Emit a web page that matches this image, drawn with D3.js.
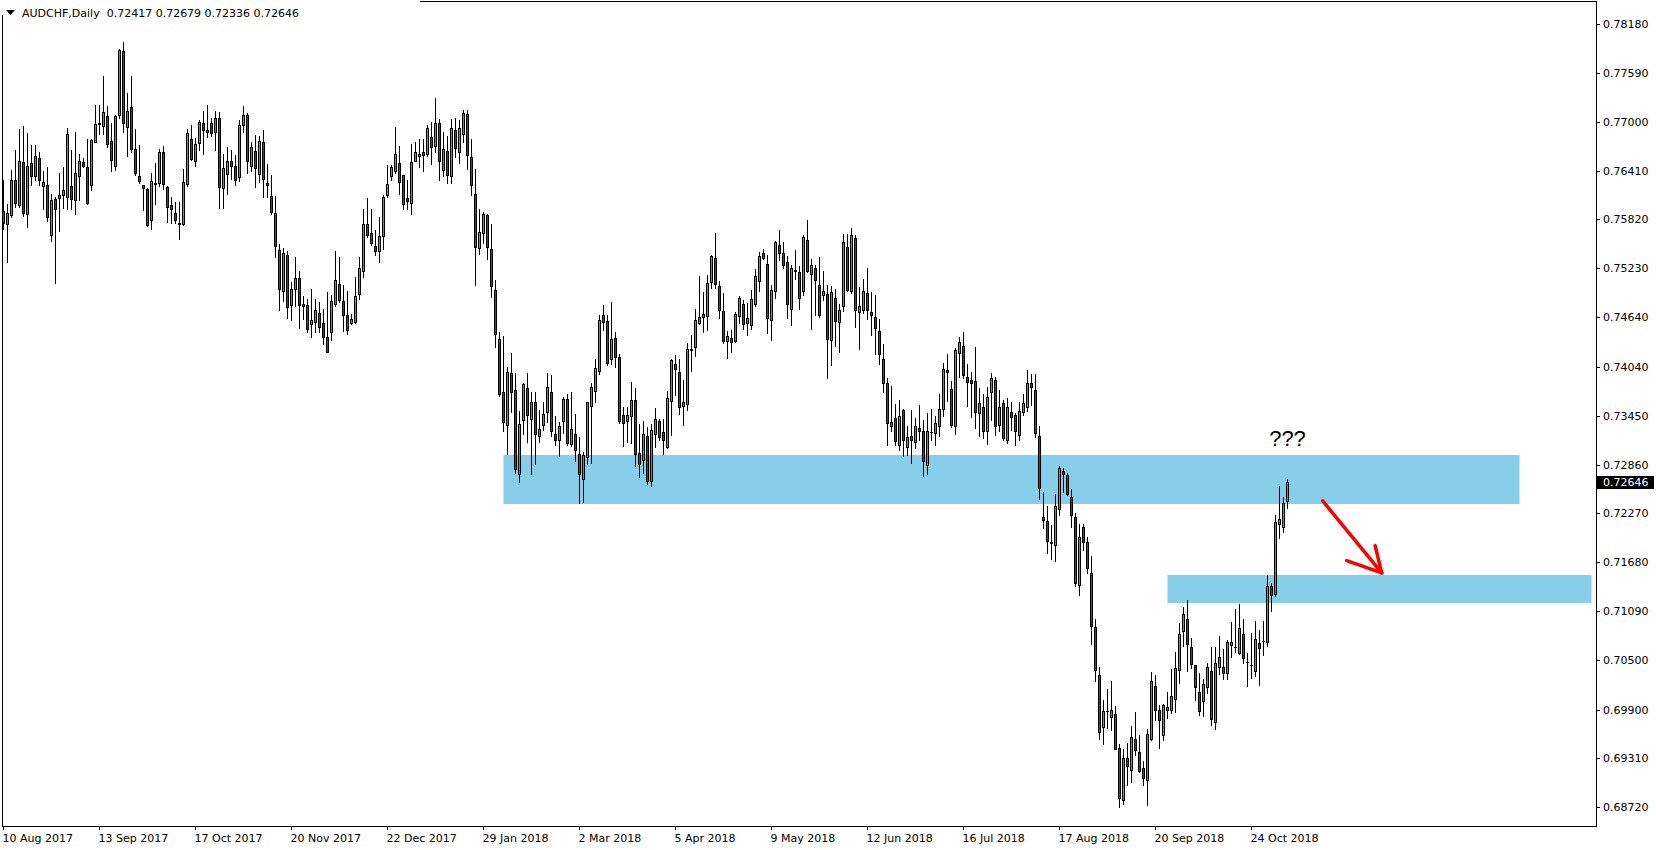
<!DOCTYPE html>
<html><head><meta charset="utf-8">
<script src="https://cdn.jsdelivr.net/npm/d3@7"></script>
<style>
html,body{margin:0;padding:0;background:#fff;}
svg{display:block;}
</style></head><body>
<svg id="c" width="1656" height="850"></svg>
<script>
const symbol = "AUDCHF,Daily";
const lastQuote = [0.72417, 0.72679, 0.72336, 0.72646];

const open = [
.7592,.7576,.7587,.7629,.7599,.7651,.7589,.7650,.7634,.7656,.7622,.7624,.7563,.7607,.7608,.7611,.7609,.7622,.7605,.7635,
.7651,.7645,.7623,.7676,.7697,.7695,.7707,.7677,.7646,.7708,.7785,.7694,.7718,.7667,.7634,.7623,.7619,.7581,.7625,.7626,
.7664,.7621,.7599,.7590,.7578,.7577,.7625,.7679,.7653,.7674,.7699,.7687,.7699,.7688,.7704,
.7620,.7637,.7653,.7646,.7633,.7696,.7708,.7646,.7665,.7637,.7676,.7626,.7610,.7590,.7545,.7496,.7539,.7479,.7498,.7511,
.7480,.7479,.7456,.7458,.7469,.7457,.7440,.7446,.7480,.7504,.7483,.7466,.7457,.7458,.7492,.7520,.7577,.7566,.7550,.7544,
.7562,.7611,.7634,.7640,.7650,.7636,.7608,.7602,.7653,.7658,.7663,.7661,.7682,.7671,.7698,
.7642,.7665,.7635,.7690,.7664,.7685,.7709,.7657,.7613,.7548,.7565,.7587,.7546,.7497,.7438,.7374,.7334,.7397,.7376,.7275,
.7340,.7378,.7341,.7362,.7321,.7334,.7349,.7374,.7323,.7316,.7338,.7365,.7311,.7323,.7299,.7268,.7295,.7357,.7375,.7399,
.7467,.7459,.7413,.7439,.7416,.7346,.7338,.7345,.7364,.7300,.7291,.7320,.7266,.7323,.7338,
.7325,.7307,.7363,.7407,.7398,.7357,.7359,.7424,.7428,.7457,.7464,.7465,.7506,.7535,.7501,.7471,.7435,.7439,.7435,.7465,
.7480,.7457,.7455,.7480,.7508,.7542,.7528,.7461,.7495,.7551,.7541,.7530,.7474,.7520,.7519,.7495,.7557,.7516,.7523,.7503,
.7491,.7492,.7436,.7487,.7458,.7478,.7549,.7496,.7559,.7470,.7472,.7493,.7470,.7464,.7447,
.7413,.7384,.7332,.7342,.7310,.7352,.7307,.7321,.7313,.7330,.7326,.7286,.7325,.7324,.7332,.7353,.7400,.7377,.7332,.7421,
.7429,.7392,.7388,.7387,.7348,.7355,.7326,.7374,.7388,.7334,.7360,.7316,.7349,.7346,.7322,.7349,.7355,.7384,.7376,.7320,
.7223,.7218,.7193,.7189,.7232,.7278,.7273,.7247,.7222,.7140,.7211,.7193,.7155,.7090,.7032,
.6969,.6988,.6981,.6985,.6944,.6881,.6932,.6917,.6954,.6939,.6919,.6905,.6954,.7019,.6989,.6959,.6989,.6990,.7003,.7038,
.7085,.7100,.7065,.7044,.7011,.7000,.7017,.7037,.6975,.7042,.7041,.7034,.7068,.7066,.7058,.7081,.7048,.7044,.7037,.7070,
.7073,.7072,.7139,.7130,.7214,.7211,.72417];

const high = [
.7629,.7601,.7642,.7666,.7691,.7695,.7686,.7672,.7672,.7664,.7640,.7645,.7613,.7609,.7638,.7645,.7693,.7666,.7688,.7661,
.7656,.7679,.7679,.7720,.7720,.7755,.7719,.7698,.7708,.7788,.7796,.7735,.7755,.7691,.7672,.7624,.7620,.7638,.7650,.7667,
.7671,.7622,.7609,.7603,.7603,.7643,.7691,.7696,.7680,.7702,.7713,.7720,.7704,.7713,.7712,
.7661,.7669,.7666,.7660,.7702,.7719,.7710,.7675,.7684,.7683,.7690,.7649,.7636,.7610,.7552,.7547,.7544,.7507,.7536,.7520,
.7490,.7486,.7498,.7486,.7482,.7474,.7494,.7491,.7544,.7536,.7503,.7495,.7468,.7512,.7536,.7594,.7608,.7594,.7569,.7585,
.7612,.7648,.7648,.7694,.7671,.7636,.7630,.7673,.7675,.7679,.7679,.7696,.7700,.7729,.7703,
.7688,.7683,.7703,.7705,.7702,.7714,.7714,.7679,.7643,.7594,.7591,.7589,.7576,.7509,.7446,.7441,.7404,.7421,.7397,.7351,
.7384,.7397,.7373,.7374,.7352,.7362,.7396,.7394,.7344,.7337,.7367,.7371,.7373,.7347,.7319,.7301,.7362,.7384,.7414,.7466,
.7479,.7467,.7482,.7446,.7419,.7356,.7356,.7386,.7378,.7335,.7339,.7331,.7335,.7354,.7341,
.7341,.7375,.7414,.7418,.7413,.7388,.7433,.7442,.7474,.7514,.7494,.7515,.7539,.7566,.7508,.7493,.7447,.7448,.7470,.7490,
.7485,.7481,.7497,.7522,.7543,.7546,.7539,.7503,.7556,.7569,.7555,.7538,.7527,.7545,.7526,.7563,.7581,.7534,.7527,.7537,
.7520,.7503,.7502,.7498,.7480,.7564,.7564,.7572,.7563,.7500,.7510,.7523,.7494,.7491,.7462,
.7432,.7390,.7381,.7359,.7364,.7353,.7332,.7352,.7342,.7358,.7340,.7348,.7353,.7344,.7371,.7409,.7420,.7387,.7427,.7440,
.7446,.7407,.7398,.7428,.7378,.7371,.7380,.7397,.7392,.7376,.7364,.7366,.7361,.7348,.7361,.7371,.7400,.7395,.7395,.7332,
.7253,.7236,.7213,.7250,.7284,.7282,.7276,.7256,.7228,.7214,.7214,.7199,.7175,.7099,.7041,
.7002,.7015,.7024,.6994,.6949,.6942,.6950,.6970,.6987,.6959,.6928,.6967,.7036,.7032,.6995,.6997,.7011,.7039,.7059,.7094,
.7114,.7122,.7077,.7044,.7034,.7027,.7046,.7065,.7065,.7079,.7063,.7074,.7096,.7112,.7118,.7099,.7058,.7082,.7097,.7086,
.7097,.7152,.7143,.7225,.7260,.7247,.72679];

const low = [
.7571,.7531,.7585,.7597,.7597,.7586,.7573,.7623,.7630,.7624,.7594,.7580,.7556,.7505,.7568,.7596,.7595,.7594,.7589,.7605,
.7645,.7601,.7618,.7675,.7685,.7685,.7669,.7640,.7642,.7704,.7687,.7659,.7664,.7636,.7626,.7593,.7574,.7570,.7601,.7622,
.7619,.7579,.7578,.7578,.7558,.7575,.7622,.7654,.7647,.7666,.7661,.7682,.7683,.7666,.7596,
.7596,.7613,.7631,.7624,.7628,.7687,.7638,.7640,.7621,.7627,.7609,.7609,.7588,.7537,.7473,.7484,.7463,.7460,.7478,.7451,
.7462,.7446,.7440,.7446,.7446,.7431,.7422,.7436,.7478,.7482,.7447,.7444,.7456,.7457,.7486,.7513,.7561,.7551,.7539,.7531,
.7546,.7609,.7629,.7638,.7613,.7594,.7594,.7588,.7652,.7645,.7641,.7659,.7649,.7664,.7629,
.7635,.7626,.7626,.7657,.7650,.7675,.7643,.7612,.7503,.7540,.7554,.7534,.7488,.7428,.7369,.7327,.7299,.7349,.7276,.7265,
.7323,.7313,.7274,.7287,.7313,.7328,.7337,.7320,.7310,.7296,.7324,.7309,.7308,.7290,.7240,.7241,.7287,.7288,.7361,.7395,
.7448,.7406,.7407,.7404,.7336,.7308,.7313,.7312,.7284,.7271,.7276,.7263,.7260,.7307,.7315,
.7299,.7306,.7322,.7370,.7347,.7334,.7352,.7399,.7417,.7456,.7446,.7448,.7499,.7499,.7463,.7433,.7415,.7422,.7434,.7457,
.7450,.7442,.7450,.7478,.7495,.7534,.7445,.7436,.7487,.7533,.7523,.7463,.7454,.7510,.7474,.7491,.7519,.7450,.7466,.7464,
.7485,.7391,.7406,.7429,.7422,.7471,.7496,.7493,.7452,.7426,.7469,.7462,.7442,.7420,.7407,
.7374,.7310,.7327,.7309,.7303,.7296,.7297,.7288,.7306,.7316,.7272,.7274,.7316,.7309,.7321,.7345,.7363,.7331,.7323,.7392,
.7390,.7357,.7343,.7330,.7320,.7318,.7311,.7340,.7322,.7326,.7315,.7312,.7328,.7309,.7316,.7346,.7351,.7358,.7319,.7244,
.7209,.7179,.7172,.7170,.7225,.7253,.7249,.7211,.7139,.7128,.7183,.7155,.7069,.7025,.6954,
.6949,.6968,.6965,.6942,.6872,.6876,.6899,.6903,.6935,.6915,.6899,.6875,.6953,.6977,.6944,.6953,.6980,.6986,.6987,.7022,
.7067,.7037,.7040,.7002,.6983,.6982,.7010,.6971,.6966,.7033,.7027,.7027,.7054,.7060,.7057,.7046,.7019,.7028,.7030,.7020,
.7056,.7067,.7109,.7127,.7197,.7204,.72336];

const close = [
.7578,.7590,.7630,.7602,.7652,.7590,.7647,.7635,.7658,.7629,.7627,.7585,.7606,.7595,.7612,.7617,.7685,.7607,.7638,.7653,
.7647,.7602,.7678,.7697,.7699,.7712,.7673,.7654,.7707,.7786,.7699,.7713,.7667,.7638,.7628,.7620,.7575,.7628,.7626,.7664,
.7625,.7597,.7594,.7581,.7576,.7627,.7686,.7655,.7673,.7700,.7690,.7690,.7686,.7704,.7621,
.7644,.7653,.7646,.7630,.7696,.7708,.7652,.7670,.7644,.7677,.7631,.7623,.7591,.7550,.7498,.7542,.7476,.7498,.7511,.7479,
.7478,.7450,.7460,.7472,.7452,.7440,.7422,.7483,.7509,.7485,.7467,.7449,.7462,.7490,.7523,.7577,.7563,.7553,.7544,.7562,
.7609,.7625,.7645,.7661,.7627,.7601,.7604,.7651,.7663,.7661,.7660,.7692,.7670,.7699,.7653,
.7667,.7636,.7692,.7668,.7692,.7710,.7660,.7623,.7549,.7567,.7588,.7549,.7501,.7444,.7371,.7337,.7398,.7374,.7281,.7335,
.7383,.7346,.7362,.7323,.7329,.7347,.7379,.7326,.7316,.7333,.7365,.7312,.7329,.7303,.7275,.7297,.7361,.7380,.7403,.7461,
.7458,.7409,.7438,.7416,.7338,.7336,.7346,.7364,.7299,.7287,.7323,.7266,.7328,.7341,.7319,
.7316,.7366,.7412,.7401,.7356,.7361,.7426,.7426,.7461,.7464,.7468,.7505,.7538,.7504,.7473,.7435,.7441,.7434,.7468,.7487,
.7456,.7463,.7486,.7514,.7538,.7535,.7463,.7497,.7555,.7541,.7527,.7480,.7523,.7521,.7487,.7561,.7520,.7527,.7509,.7466,
.7495,.7438,.7494,.7459,.7472,.7555,.7497,.7563,.7472,.7478,.7496,.7472,.7466,.7451,.7420,
.7385,.7336,.7337,.7314,.7344,.7315,.7319,.7316,.7333,.7327,.7290,.7327,.7325,.7336,.7353,.7401,.7398,.7334,.7424,.7434,
.7394,.7386,.7385,.7349,.7360,.7326,.7368,.7391,.7332,.7356,.7318,.7355,.7343,.7327,.7351,.7360,.7384,.7380,.7324,.7258,
.7219,.7194,.7191,.7236,.7282,.7274,.7250,.7225,.7143,.7199,.7192,.7161,.7091,.7038,.6963,
.6988,.6988,.6989,.6942,.6883,.6932,.6922,.6957,.6941,.6916,.6907,.6961,.7025,.6989,.6977,.6995,.6993,.7006,.7040,.7081,
.7105,.7069,.7045,.7017,.6988,.7021,.7042,.6979,.7046,.7053,.7034,.7072,.7072,.7066,.7089,.7052,.7048,.7044,.7075,.7064,
.7073,.7139,.7129,.7216,.7220,.7240,.72646];

const dateTickLabels = ["10 Aug 2017","13 Sep 2017","17 Oct 2017","20 Nov 2017","22 Dec 2017","29 Jan 2018","2 Mar 2018",
  "5 Apr 2018","9 May 2018","12 Jun 2018","16 Jul 2018","17 Aug 2018","20 Sep 2018","24 Oct 2018"];
const barsPerDateTick = 24;
const priceTicks = [0.78180,0.77590,0.77000,0.76410,0.75820,0.75230,0.74640,0.74040,0.73450,
  0.72860,0.72270,0.71680,0.71090,0.70500,0.69900,0.69310,0.68720];

// zones: [fromBar, toBar, topPrice, bottomPrice]
const zoneFrom = [125, 291];
const zoneTo = [379, 397];
const zoneTop = [0.72975, 0.71526];
const zoneBottom = [0.72383, 0.71188];

const noteText = "???";
const noteAt = [321, 0.7308];
const arrowShaft = [[329.8, 0.7242], [344.55, 0.7155]];
const arrowWings = [[335.8, 0.7170], [342.9, 0.7188]];

// ---------- drawing ----------
const W = 1656, H = 850;
const svg = d3.select("#c");
const n = open.length;
const x = d3.scaleLinear().domain([0, n - 1]).range([3.5, 3.5 + 4 * (n - 1)]);
const y = d3.scaleLinear().domain([0.68720, 0.78180]).range([807.3, 24]);
const py = v => Math.round(y(v));

svg.append("rect").attr("width", W).attr("height", H).attr("fill", "#fff");

// zones
svg.append("g").selectAll("rect").data(d3.range(zoneFrom.length)).join("rect")
  .attr("x", i => x(zoneFrom[i]))
  .attr("width", i => x(zoneTo[i]) - x(zoneFrom[i]))
  .attr("y", i => py(zoneTop[i]))
  .attr("height", i => py(zoneBottom[i]) - py(zoneTop[i]))
  .attr("fill", "#87CEEB");

const bars = d3.range(n);
const cg = svg.append("g").attr("shape-rendering", "crispEdges");
cg.selectAll("line.w").data(bars).join("line").attr("class", "w")
  .attr("x1", i => x(i)).attr("x2", i => x(i))
  .attr("y1", i => py(high[i])).attr("y2", i => py(low[i]) + 1)
  .attr("stroke", "#000").attr("stroke-width", 1);

const bodyBars = bars.filter(i => py(Math.min(open[i], close[i])) - py(Math.max(open[i], close[i])) >= 1);
const dojiBars = bars.filter(i => py(Math.min(open[i], close[i])) - py(Math.max(open[i], close[i])) < 1);
cg.selectAll("rect.b").data(bodyBars).join("rect").attr("class", "b")
  .attr("x", i => x(i) - 1).attr("width", 2)
  .attr("y", i => py(Math.max(open[i], close[i])) + 0.5)
  .attr("height", i => py(Math.min(open[i], close[i])) - py(Math.max(open[i], close[i])))
  .attr("fill", i => close[i] >= open[i] ? "#20c820" : "#d01010")
  .attr("stroke", "#000").attr("stroke-width", 1);
cg.selectAll("line.d").data(dojiBars).join("line").attr("class", "d")
  .attr("x1", i => x(i) - 1.5).attr("x2", i => x(i) + 1.5)
  .attr("y1", i => py(open[i]) + 0.5).attr("y2", i => py(open[i]) + 0.5)
  .attr("stroke", "#000").attr("stroke-width", 1);

// frame
svg.append("rect").attr("x", 2.5).attr("y", 1.5).attr("width", 1594).attr("height", 825)
  .attr("fill", "none").attr("stroke", "#000").attr("stroke-width", 1).attr("shape-rendering", "crispEdges");

// price axis
const yr = y.copy().interpolate(d3.interpolateRound);
const ya = svg.append("g").attr("transform", "translate(1597,0)")
  .call(d3.axisRight(yr).tickValues(priceTicks).tickSize(3).tickPadding(3).tickFormat(d3.format(".5f")));
ya.select(".domain").remove();
ya.attr("font-family", "DejaVu Sans").attr("font-size", 11).attr("shape-rendering", "crispEdges");
ya.selectAll("text").attr("fill", "#000");
ya.selectAll("line").attr("stroke", "#000");

// date axis
const xa = svg.append("g").attr("transform", "translate(0,827)")
  .call(d3.axisBottom(x).offset(0).tickValues(dateTickLabels.map((d, k) => k * barsPerDateTick))
    .tickSize(3).tickPadding(4).tickFormat((d, k) => dateTickLabels[k]));
xa.select(".domain").remove();
xa.attr("font-family", "DejaVu Sans").attr("font-size", 11).attr("shape-rendering", "crispEdges");
xa.selectAll("text").attr("fill", "#000").attr("text-anchor", "start").attr("x", -1);
xa.selectAll("line").attr("stroke", "#000");

// last price label
const lastClose = close[n - 1];
const ly = y(lastClose);
svg.append("rect").attr("x", 1597).attr("y", Math.round(ly) - 6).attr("width", 57).attr("height", 13).attr("fill", "#000");
svg.append("text").attr("x", 1603).attr("y", ly).attr("dy", "0.36em")
  .attr("font-family", "DejaVu Sans").attr("font-size", 11).attr("fill", "#fff")
  .text(d3.format(".5f")(lastClose));

// header
svg.append("rect").attr("x", 0).attr("y", 0).attr("width", 420).attr("height", 15).attr("fill", "#fff");
svg.append("path").attr("d", "M6,10 L15,10 L10.5,15 Z").attr("fill", "#000");
svg.append("text").attr("x", 22).attr("y", 17).style("white-space", "pre")
  .attr("font-family", "DejaVu Sans").attr("font-size", 11).attr("fill", "#000")
  .text(symbol + "  " + lastQuote.map(v => v.toFixed(5)).join(" "));

// annotation text
svg.append("text").attr("x", x(noteAt[0])).attr("y", y(noteAt[1])).attr("text-anchor", "middle")
  .attr("font-family", "Liberation Sans, Arial, sans-serif").attr("font-size", 22).attr("fill", "#000")
  .text(noteText);

// arrow
const line = d3.line().x(d => x(d[0])).y(d => y(d[1]));
const ag = svg.append("g").attr("fill", "none").attr("stroke", "#ff0000").attr("stroke-width", 3.5)
  .attr("stroke-linecap", "round");
ag.append("path").attr("d", line(arrowShaft));
arrowWings.forEach(w => ag.append("path").attr("d", line([w, arrowShaft[1]])));
</script>
</body></html>
